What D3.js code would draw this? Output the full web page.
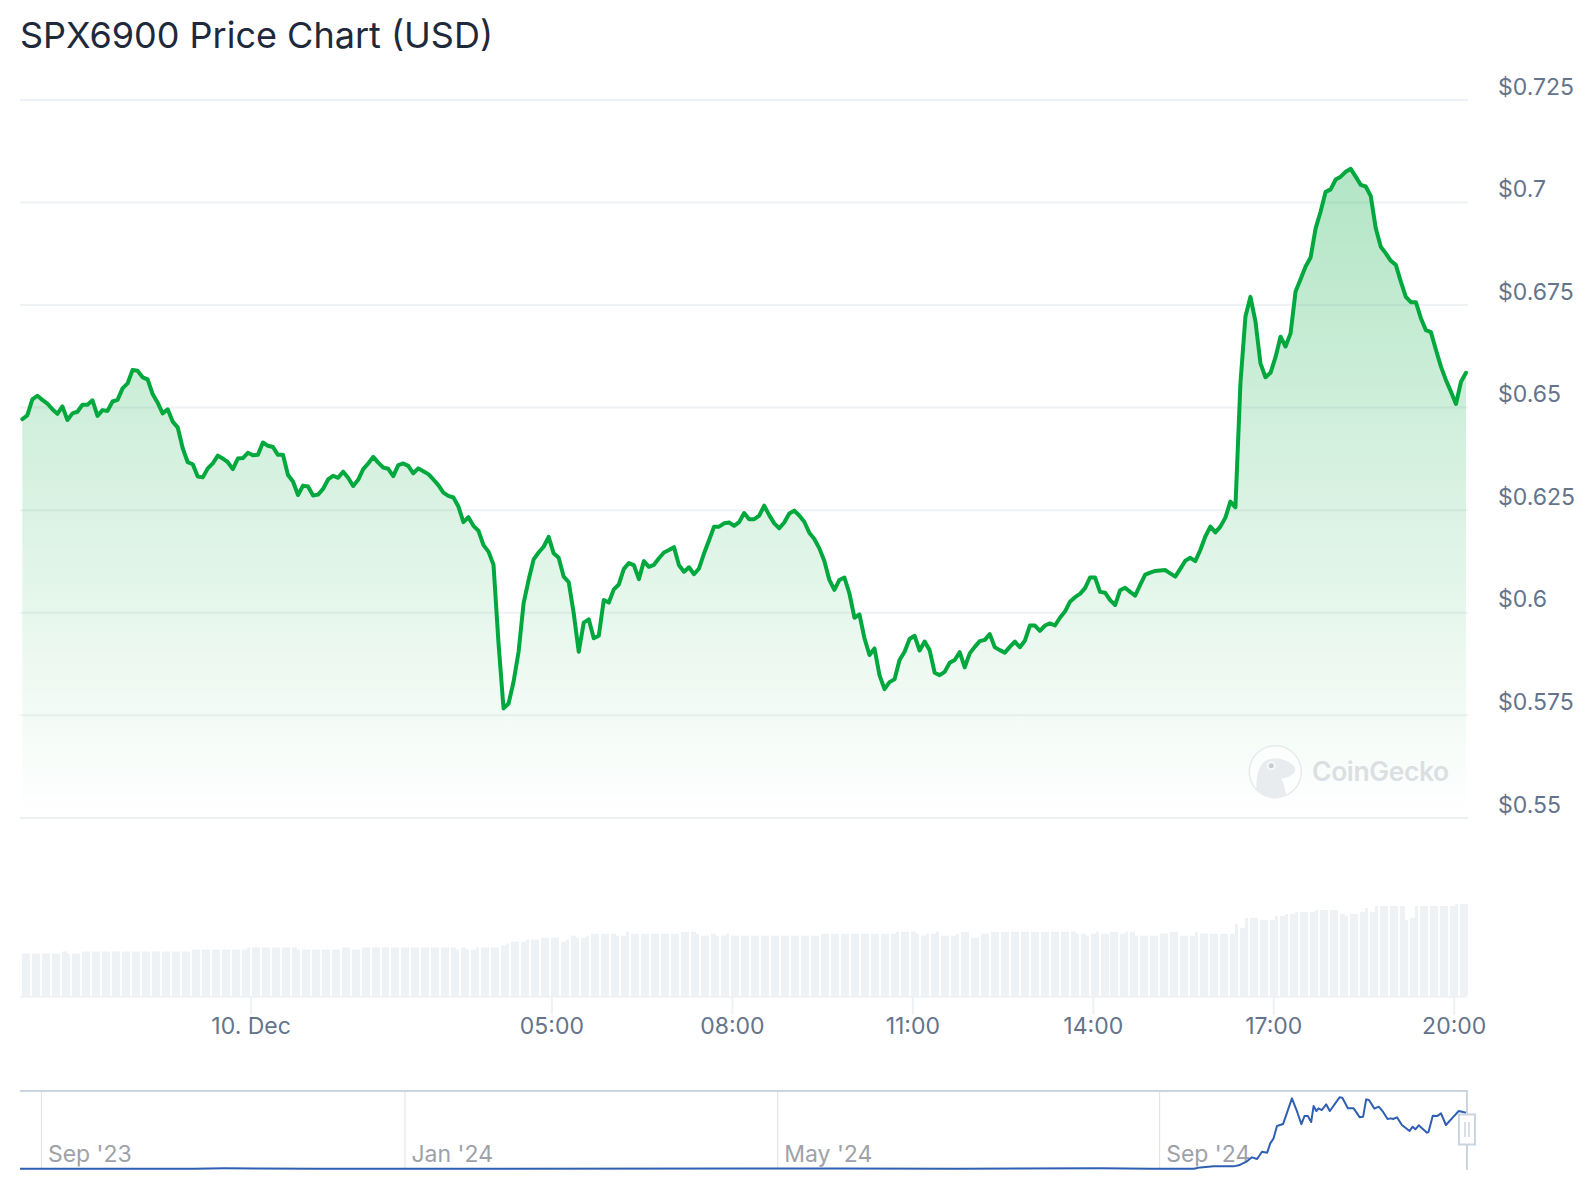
<!DOCTYPE html>
<html>
<head>
<meta charset="utf-8">
<title>SPX6900 Price Chart (USD)</title>
<script src="https://cdn.jsdelivr.net/npm/d3@7"></script>
<style>
	body { margin: 0; background: #fff; }
	text { font-family: Inter, sans-serif; }
</style>
</head>
<body>
<svg id="chart" width="1596" height="1200"></svg>
<script>
const title = 'SPX6900 Price Chart (USD)'

// price in USD, one reading every five minutes
const prices = [
	0.6469, 0.6478, 0.6517, 0.6526, 0.6516, 0.6507, 0.6493, 0.6482, 0.6500, 0.6467,
	0.6483, 0.6487, 0.6504, 0.6504, 0.6515, 0.6477, 0.6491, 0.6489, 0.6512, 0.6516,
	0.6544, 0.6556, 0.6589, 0.6587, 0.6571, 0.6566, 0.6530, 0.6509, 0.6483, 0.6493,
	0.6463, 0.6449, 0.6398, 0.6364, 0.6359, 0.6329, 0.6327, 0.6349, 0.6361, 0.6380,
	0.6373, 0.6364, 0.6347, 0.6373, 0.6374, 0.6387, 0.6381, 0.6382, 0.6412, 0.6404,
	0.6401, 0.6382, 0.6382, 0.6333, 0.6317, 0.6284, 0.6307, 0.6305, 0.6283, 0.6285,
	0.6299, 0.6322, 0.6331, 0.6326, 0.6341, 0.6326, 0.6306, 0.6321, 0.6347, 0.6361,
	0.6377, 0.6363, 0.6351, 0.6348, 0.6330, 0.6357, 0.6361, 0.6355, 0.6337, 0.6349,
	0.6342, 0.6335, 0.6322, 0.6308, 0.6290, 0.6282, 0.6278, 0.6256, 0.6218, 0.6230,
	0.6209, 0.6197, 0.6162, 0.6146, 0.6114, 0.5923, 0.5764, 0.5776, 0.5829, 0.5902,
	0.6020, 0.6077, 0.6127, 0.6144, 0.6158, 0.6182, 0.6142, 0.6131, 0.6085, 0.6072,
	0.5996, 0.5902, 0.5973, 0.5981, 0.5935, 0.5941, 0.6028, 0.6022, 0.6054, 0.6066,
	0.6104, 0.6118, 0.6113, 0.6079, 0.6123, 0.6109, 0.6114, 0.6130, 0.6144, 0.6150,
	0.6157, 0.6113, 0.6097, 0.6108, 0.6091, 0.6105, 0.6142, 0.6174, 0.6207, 0.6207,
	0.6215, 0.6217, 0.6209, 0.6218, 0.6240, 0.6225, 0.6225, 0.6234, 0.6258, 0.6235,
	0.6215, 0.6203, 0.6217, 0.6239, 0.6246, 0.6234, 0.6219, 0.6192, 0.6177, 0.6154,
	0.6123, 0.6077, 0.6053, 0.6077, 0.6083, 0.6044, 0.5985, 0.5993, 0.5935, 0.5894,
	0.5910, 0.5845, 0.5811, 0.5828, 0.5835, 0.5882, 0.5902, 0.5933, 0.5941, 0.5905,
	0.5927, 0.5906, 0.5851, 0.5845, 0.5853, 0.5875, 0.5882, 0.5901, 0.5864, 0.5898,
	0.5914, 0.5928, 0.5931, 0.5945, 0.5913, 0.5906, 0.5900, 0.5914, 0.5927, 0.5913,
	0.5929, 0.5966, 0.5966, 0.5953, 0.5966, 0.5971, 0.5966, 0.5985, 0.6000, 0.6024,
	0.6035, 0.6043, 0.6057, 0.6083, 0.6083, 0.6048, 0.6046, 0.6028, 0.6016, 0.6052,
	0.6058, 0.6048, 0.6039, 0.6065, 0.6090, 0.6095, 0.6099, 0.6100, 0.6101, 0.6093,
	0.6085, 0.6104, 0.6124, 0.6131, 0.6123, 0.6150, 0.6183, 0.6207, 0.6193, 0.6207,
	0.6229, 0.6268, 0.6254, 0.6556, 0.6719, 0.6767, 0.6707, 0.6605, 0.6571, 0.6582,
	0.6620, 0.6670, 0.6646, 0.6678, 0.6780, 0.6810, 0.6841, 0.6863, 0.6934, 0.6975,
	0.7023, 0.7029, 0.7053, 0.7060, 0.7072, 0.7079, 0.7060, 0.7040, 0.7036, 0.7013,
	0.6934, 0.6889, 0.6873, 0.6855, 0.6845, 0.6804, 0.6767, 0.6754, 0.6754, 0.6715,
	0.6686, 0.6681, 0.6638, 0.6597, 0.6564, 0.6536, 0.6506, 0.6560, 0.6582
]

// relative trading volume, same five minute readings
const volumes = [
	43, 43, 43, 43, 43, 43, 43, 43, 45, 43, 43, 43, 45, 45, 45, 45, 45, 45, 45, 45,
	45, 45, 45, 45, 45, 45, 45, 45, 45, 45, 45, 45, 45, 45, 47, 47, 47, 47, 47, 47,
	47, 47, 47, 47, 47, 49, 49, 49, 49, 49, 49, 49, 49, 49, 49, 47, 47, 47, 47, 47,
	47, 47, 47, 47, 49, 49, 47, 47, 49, 49, 49, 49, 49, 49, 49, 49, 49, 49, 49, 49,
	49, 49, 49, 49, 49, 49, 49, 47, 49, 47, 47, 49, 49, 49, 49, 49, 51, 53, 55, 55,
	55, 57, 57, 57, 59, 59, 59, 59, 55, 57, 61, 59, 59, 61, 63, 63, 63, 63, 63, 61,
	61, 65, 63, 63, 63, 63, 63, 63, 63, 63, 63, 63, 65, 65, 65, 63, 61, 61, 63, 61,
	61, 63, 61, 61, 61, 61, 61, 61, 61, 61, 61, 61, 61, 61, 61, 61, 61, 61, 61, 61,
	63, 63, 63, 63, 63, 63, 63, 63, 63, 63, 63, 63, 63, 63, 63, 65, 65, 65, 65, 63,
	61, 63, 63, 65, 61, 61, 61, 63, 65, 65, 59, 59, 63, 63, 65, 65, 65, 65, 65, 65,
	65, 65, 65, 65, 65, 65, 65, 65, 65, 65, 65, 63, 63, 61, 63, 65, 63, 63, 65, 65,
	63, 65, 65, 61, 61, 61, 61, 61, 63, 63, 65, 65, 61, 61, 61, 65, 63, 63, 63, 63,
	63, 63, 63, 73, 69, 79, 79, 79, 77, 77, 77, 81, 81, 83, 83, 85, 85, 85, 85, 87,
	87, 87, 87, 87, 83, 81, 83, 83, 85, 89, 85, 91, 91, 91, 91, 91, 91, 77, 79, 91,
	91, 91, 91, 91, 91, 91, 91, 93, 93, 93
]

const priceTicks = [0.55, 0.575, 0.6, 0.625, 0.65, 0.675, 0.7, 0.725]
const timeTicks = ['2024-12-10T00:00Z', '2024-12-10T05:00Z', '2024-12-10T08:00Z', '2024-12-10T11:00Z', '2024-12-10T14:00Z', '2024-12-10T17:00Z', '2024-12-10T20:00Z']
const timeLabels = ['10. Dec', '05:00', '08:00', '11:00', '14:00', '17:00', '20:00']

// full history for the navigator, days since 1 Sep 2023 and price in USD
const historyDays = [
	-7, 50, 60, 70, 90, 150, 230, 260, 300, 346.6, 363, 377.2, 379.3, 383.7, 390.2, 391.9, 394.6, 396.2, 397.9, 399.5,
	401.2, 402.2, 403.3, 404.4, 406.4, 409.3, 411, 412.4, 413.4, 414.5, 415.6, 416.4, 417.3, 418, 419.1, 420.5, 421.7, 424.9, 425.8, 427.6,
	429.5, 431.5, 432.6, 433.6, 434.5, 436.3, 437.7, 439.1, 440.6, 441.7, 442.4, 443.7, 445.3, 447.8, 448.8, 449.7, 450.8, 453.5, 454, 455.4,
	456.8, 458.1, 459.7, 462.2, 463.9, 466.3
]
const historyPrices = [
	0.003, 0.004, 0.008, 0.007, 0.004, 0.002, 0.005, 0.006, 0.004, 0.008, 0.004, 0.004, 0.019, 0.031, 0.031, 0.043, 0.09, 0.137, 0.117, 0.203,
	0.192, 0.301, 0.36, 0.505, 0.528, 0.83, 0.673, 0.528, 0.622, 0.622, 0.552, 0.74, 0.681, 0.713, 0.693, 0.76, 0.681, 0.842, 0.838, 0.713,
	0.713, 0.607, 0.615, 0.818, 0.81, 0.709, 0.732, 0.673, 0.587, 0.595, 0.587, 0.607, 0.517, 0.446, 0.497, 0.466, 0.513, 0.427, 0.434, 0.626,
	0.622, 0.654, 0.517, 0.615, 0.681, 0.662
]
const historyTicks = ['2023-09-01', '2023-12-29', '2024-04-29', '2024-09-01']
const historyLabels = ['Sep \'23', 'Jan \'24', 'May \'24', 'Sep \'24']

const green = '#00a83e'
const blue = '#2f5fb3'
const grid = '#eff2f5'
const slate = '#64748b'
const frame = '#cbd5e1'

const fiveMinutes = 3e5
const seriesStart = Date.parse('2024-12-09T20:12:15Z')
const times = prices.map((_, i) => new Date(seriesStart + i * fiveMinutes))
const historyStart = Date.UTC(2023, 8, 1)
const historyDate = day => new Date(historyStart + day * 864e5)

const x = d3.scaleUtc().domain([times[0], times[times.length - 1]]).range([22.3, 1466])
const y = d3.scaleLinear().domain([0.55, 0.725]).range([816.7, 98.7])
const xVolume = d3.scaleBand().domain(d3.range(volumes.length)).range([22, 1470])
const yVolume = d3.scaleLinear().domain([0, 93]).range([996, 904])
const xHistory = d3.scaleUtc().domain([historyDate(-7), historyDate(466.6)]).range([20, 1467])
const yHistory = d3.scaleLinear().domain([0, 0.9]).range([1169, 1092.4])

const svg = d3.select('#chart')

svg.append('text')
	.attr('x', 20)
	.attr('y', 48)
	.attr('font-size', 36)
	.attr('fill', '#1e293b')
	.text(title)

const gradient = svg.append('defs')
	.append('linearGradient')
	.attr('id', 'area-fill')
	.attr('gradientUnits', 'userSpaceOnUse')
	.attr('x1', 0)
	.attr('x2', 0)
	.attr('y1', y(d3.max(prices)))
	.attr('y2', y(0.55))

gradient.append('stop').attr('offset', 0).attr('stop-color', green).attr('stop-opacity', 0.3)
gradient.append('stop').attr('offset', 1).attr('stop-color', green).attr('stop-opacity', 0)

// price axis, the gridlines are its ticks
const yAxis = svg.append('g')
	.attr('transform', 'translate(1498,0)')
	.call(d3.axisRight(y).tickValues(priceTicks).tickFormat(d => `$${d}`).tickSize(0).tickPadding(0))

yAxis.select('.domain').remove()
yAxis.selectAll('line')
	.attr('x1', -1478)
	.attr('x2', -30)
	.attr('y1', 0.7)
	.attr('y2', 0.7)
	.attr('stroke', grid)
	.attr('stroke-width', 2)
yAxis.selectAll('text')
	.attr('dy', '-0.2em')
	.attr('font-size', 23)
	.attr('font-family', 'Inter, sans-serif')
	.attr('fill', slate)

const price = d3.line().x((_, i) => x(times[i])).y(d => y(d))
const priceArea = d3.area().x((_, i) => x(times[i])).y0(y(0.55)).y1(d => y(d))

svg.append('path').attr('d', priceArea(prices)).attr('fill', 'url(#area-fill)')

// watermark
const logo = svg.append('g').attr('transform', 'translate(1275.3,771.7)')

logo.append('circle').attr('r', 26).attr('fill', '#fff').attr('fill-opacity', 0.5).attr('stroke', '#e7eaec').attr('stroke-width', 1.5)
logo.append('path')
	.attr('d', 'M-19,18 C-19,8 -18,-3 -12,-9 C-8,-14 2,-14 8,-12 C13,-10 20,-7 20,-2 C20,3 10,7 6,7 C9,13 10,18 11,23 A26,26 0 0 1 -19,18 Z')
	.attr('fill', '#e9ecee')
logo.append('circle').attr('cx', -4).attr('cy', -6).attr('r', 4.5).attr('fill', '#f6f7f8')
logo.append('circle').attr('cx', -4).attr('cy', -6).attr('r', 2.5).attr('fill', '#c8ccd0')

svg.append('text')
	.attr('x', 1312)
	.attr('y', 781)
	.attr('font-size', 26.5)
	.attr('font-weight', 600)
	.attr('letter-spacing', -0.4)
	.attr('fill', '#dcdfe2')
	.text('CoinGecko')

svg.append('path')
	.attr('d', price(prices))
	.attr('fill', 'none')
	.attr('stroke', green)
	.attr('stroke-width', 4)
	.attr('stroke-linejoin', 'round')
	.attr('stroke-linecap', 'round')

// bars sit in pairs with a gap after every second one
svg.append('g')
	.selectAll('rect')
	.data(volumes)
	.join('rect')
	.attr('x', (_, i) => Math.round(xVolume(i)))
	.attr('y', d => yVolume(d))
	.attr('width', (_, i) => i % 2 ? 3 : 5)
	.attr('height', d => yVolume(0) - yVolume(d))
	.attr('fill', grid)

const xAxis = svg.append('g')
	.attr('transform', 'translate(0,996.7)')
	.call(d3.axisBottom(x)
		.tickValues(timeTicks.map(d => new Date(d)))
		.tickFormat((_, i) => timeLabels[i])
		.tickSize(18)
		.tickPadding(2.5))

xAxis.select('.domain').attr('d', 'M20,0H1467').attr('stroke', grid).attr('stroke-width', 2)
xAxis.selectAll('line').attr('stroke', grid).attr('stroke-width', 2)
xAxis.selectAll('text')
	.attr('font-size', 23)
	.attr('font-family', 'Inter, sans-serif')
	.attr('fill', slate)

// navigator
const navigator = svg.append('g')

navigator.append('g')
	.selectAll('line')
	.data(historyTicks)
	.join('line')
	.attr('x1', d => xHistory(new Date(d)))
	.attr('x2', d => xHistory(new Date(d)))
	.attr('y1', 1092)
	.attr('y2', 1169)
	.attr('stroke', '#dde2e8')

navigator.append('g')
	.selectAll('text')
	.data(historyTicks)
	.join('text')
	.attr('x', d => xHistory(new Date(d)) + 6.5)
	.attr('y', 1162)
	.attr('font-size', 23)
	.attr('fill', '#9ea2a8')
	.text((_, i) => historyLabels[i])

navigator.append('path')
	.attr('d', d3.line().x((d, i) => xHistory(historyDate(historyDays[i]))).y(d => yHistory(d))(historyPrices))
	.attr('fill', 'none')
	.attr('stroke', blue)
	.attr('stroke-width', 2)
	.attr('stroke-linejoin', 'round')

navigator.append('path')
	.attr('d', 'M20,1091H1467V1170')
	.attr('fill', 'none')
	.attr('stroke', frame)
	.attr('stroke-width', 2)

navigator.append('rect')
	.attr('x', 1459)
	.attr('y', 1114.5)
	.attr('width', 16)
	.attr('height', 30)
	.attr('fill', '#fff')
	.attr('stroke', frame)
	.attr('stroke-width', 2)

navigator.append('path')
	.attr('d', 'M1465,1122V1137M1469,1122V1137')
	.attr('stroke', frame)
	.attr('stroke-width', 1.5)
</script>
</body>
</html>
